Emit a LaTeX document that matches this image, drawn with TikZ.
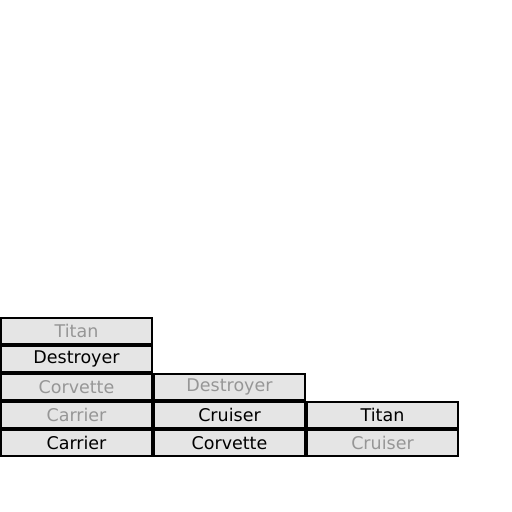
\documentclass[tikz,border=0pt]{standalone}
\usepackage{fontspec}
\setmainfont{DejaVu Sans}
\usepackage{xcolor}
\usepackage{tikz}
\usetikzlibrary{positioning}

\definecolor{boxfill}{RGB}{229,229,229}
\definecolor{faded}{RGB}{150,150,150}

\begin{document}
\begin{tikzpicture}[x=1pt, y=1pt,
    ship/.style={draw, line width=2pt, fill=boxfill, minimum width=151pt, minimum height=26pt,
        inner sep=0pt, font=\fontsize{17.5}{17.5}\selectfont},
    old/.style={ship, text=faded}]
    \useasboundingbox (0,0) rectangle (512,512);

    % First stack
    \node[ship, anchor=south west] (a1) at (0,55) {Carrier};
    \node[old, above=0pt of a1] (a2) {Carrier};
    \node[old, above=0pt of a2] (a3) {Corvette};
    \node[ship, above=0pt of a3] (a4) {Destroyer};
    \node[old, above=0pt of a4] (a5) {Titan};

    % Second stack
    \node[ship, right=0pt of a1] (b1) {Corvette};
    \node[ship, above=0pt of b1] (b2) {Cruiser};
    \node[old, above=0pt of b2] (b3) {Destroyer};

    % Third stack
    \node[old, right=0pt of b1] (c1) {Cruiser};
    \node[ship, above=0pt of c1] (c2) {Titan};
\end{tikzpicture}
\end{document}
